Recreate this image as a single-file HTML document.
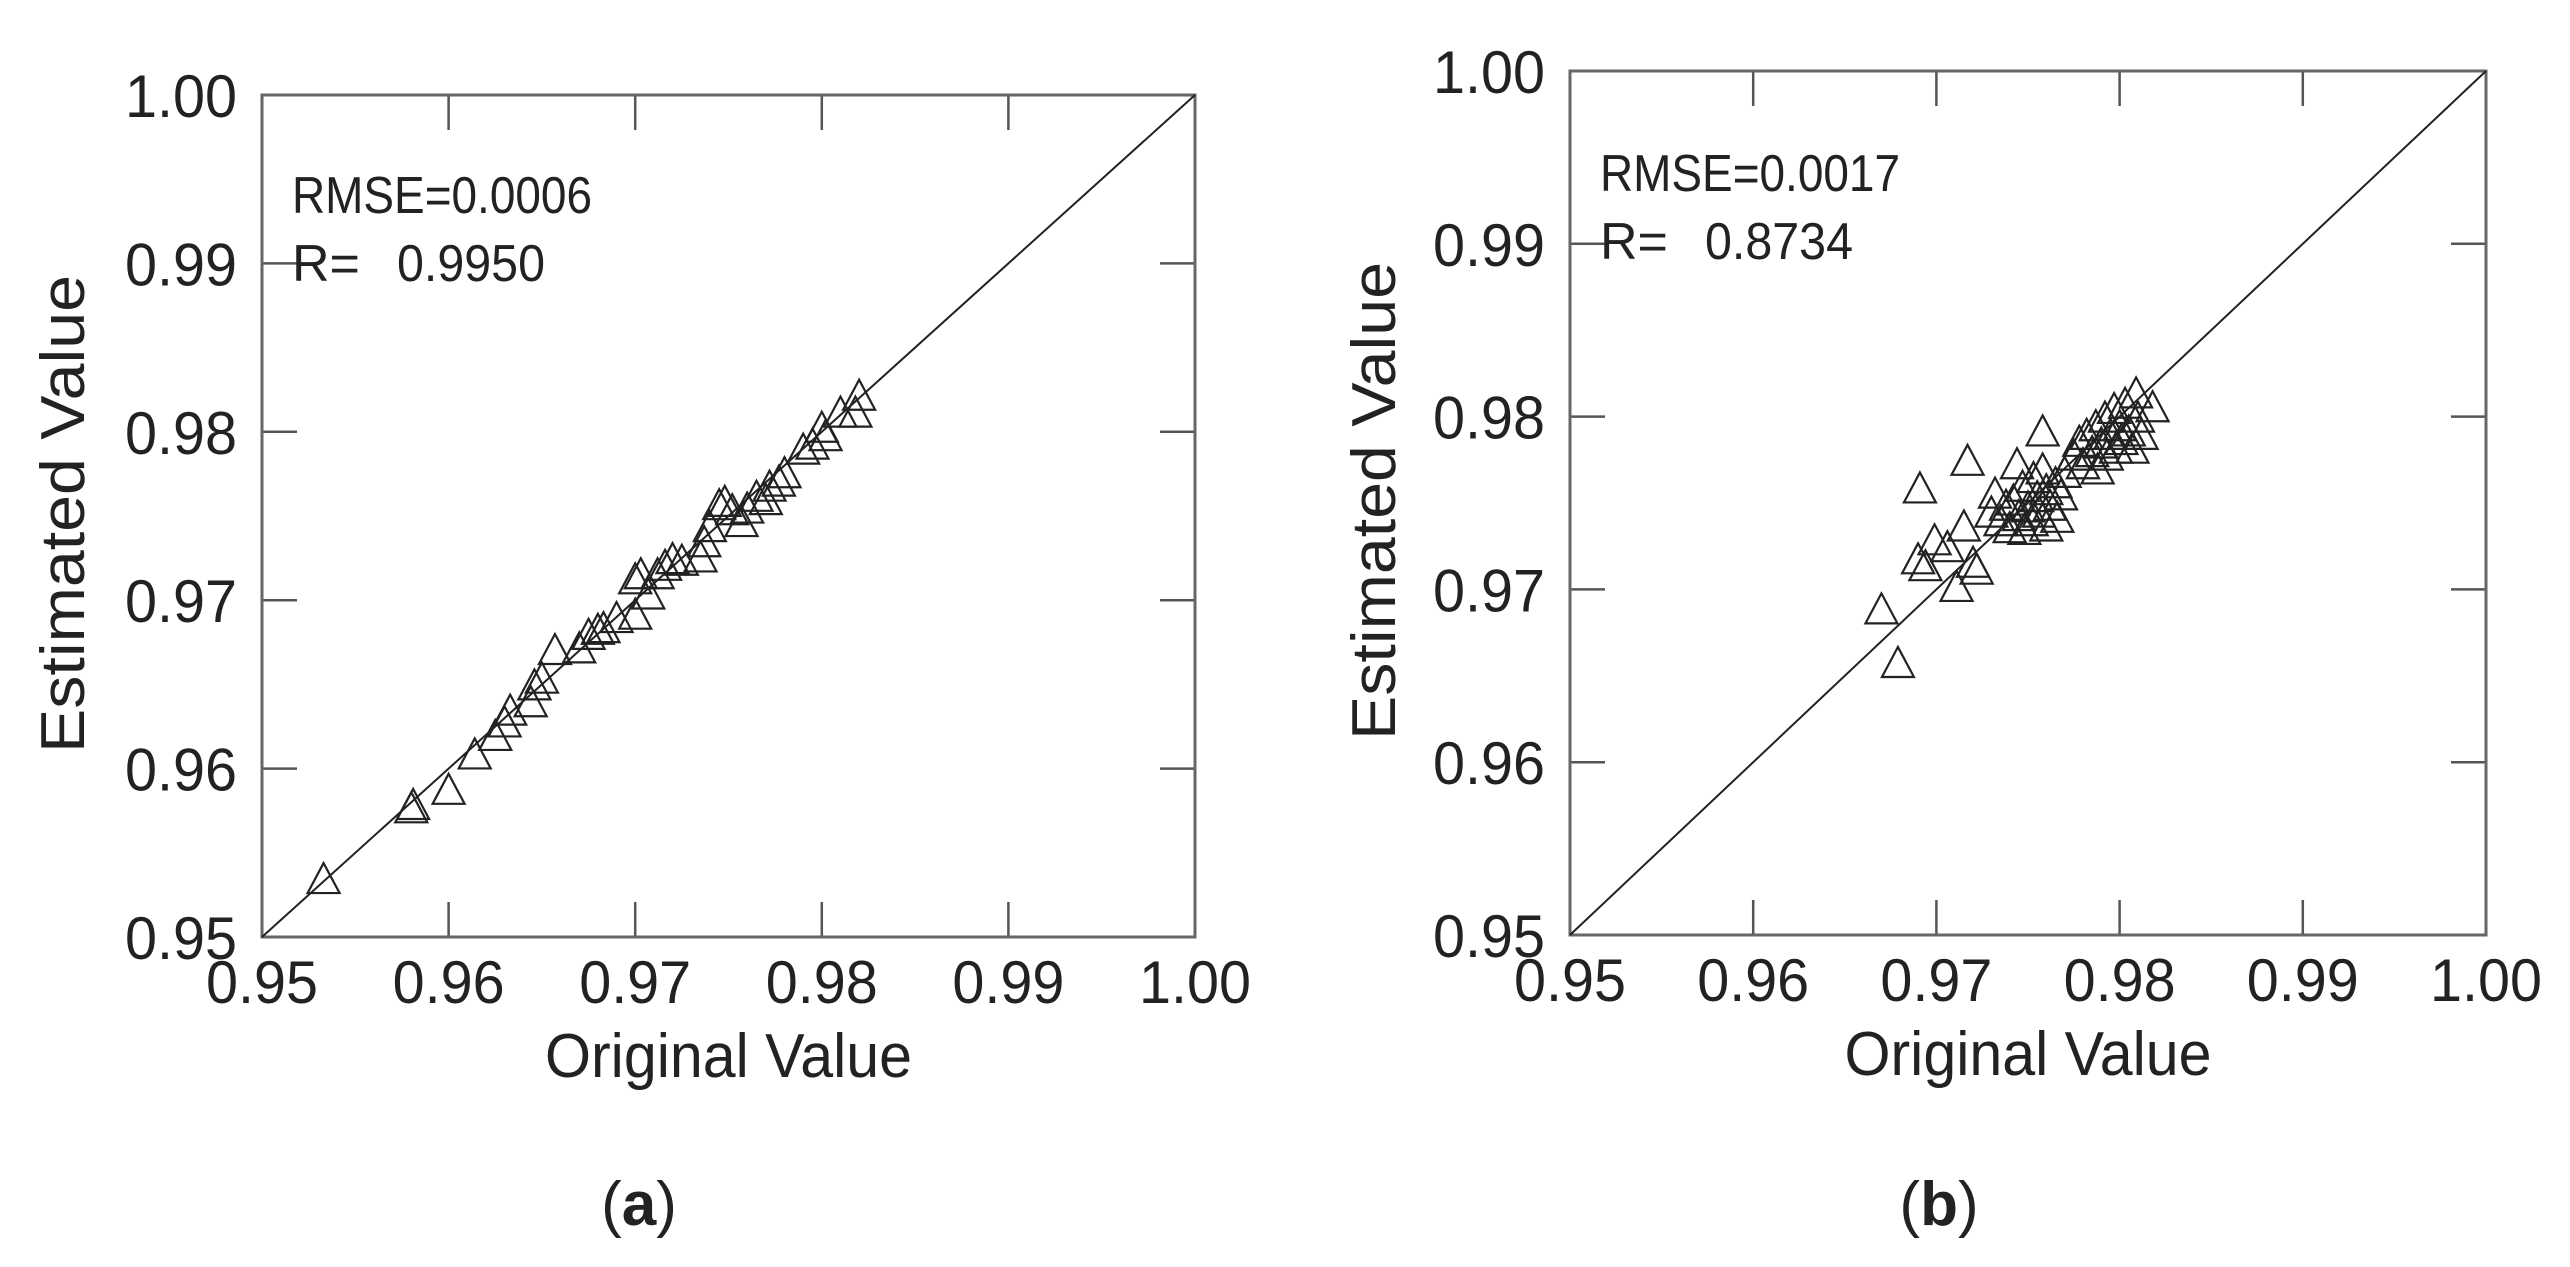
<!DOCTYPE html>
<html><head><meta charset="utf-8"><style>
html,body{margin:0;padding:0;background:#fff;}
svg{display:block;}
text{font-family:"Liberation Sans",sans-serif;fill:#222;}
</style></head><body>
<svg id="fig" width="2570" height="1267" viewBox="0 0 2570 1267" xmlns="http://www.w3.org/2000/svg"></svg>
<script>
const ticksVal = [0.95,0.96,0.97,0.98,0.99,1.00];
const tickLabels = ["0.95","0.96","0.97","0.98","0.99","1.00"];
const aX = [0.9533,0.9580,0.9581,0.9600,0.9614,0.9625,0.9630,0.9633,0.9644,0.9646,0.9650,0.9657,0.9670,0.9675,0.9680,0.9683,0.9690,0.9700,0.9700,0.9703,0.9707,0.9712,0.9716,0.9720,0.9725,0.9735,0.9737,0.9740,0.9745,0.9748,0.9752,0.9757,0.9760,0.9765,0.9770,0.9772,0.9777,0.9780,0.9790,0.9795,0.9800,0.9802,0.9810,0.9818,0.9820];
const aY = [0.9535,0.9577,0.9579,0.9588,0.9609,0.9620,0.9628,0.9635,0.9640,0.9650,0.9654,0.9671,0.9672,0.9680,0.9683,0.9684,0.9690,0.9692,0.9713,0.9716,0.9704,0.9716,0.9721,0.9725,0.9724,0.9726,0.9735,0.9744,0.9757,0.9759,0.9754,0.9747,0.9755,0.9762,0.9760,0.9768,0.9771,0.9776,0.9790,0.9793,0.9803,0.9798,0.9812,0.9812,0.9822];
const bX = [0.9679,0.9670,0.9691,0.9717,0.9699,0.9690,0.9694,0.9711,0.9706,0.9722,0.9715,0.9720,0.9730,0.9732,0.9735,0.9738,0.9740,0.9742,0.9744,0.9745,0.9747,0.9748,0.9750,0.9752,0.9753,0.9755,0.9756,0.9758,0.9758,0.9760,0.9760,0.9762,0.9765,0.9766,0.9768,0.9770,0.9775,0.9778,0.9780,0.9782,0.9785,0.9787,0.9788,0.9790,0.9792,0.9793,0.9795,0.9797,0.9798,0.9800,0.9801,0.9803,0.9805,0.9807,0.9809,0.9810,0.9812,0.9818];
const bY = [0.9658,0.9689,0.9759,0.9775,0.9729,0.9718,0.9714,0.9702,0.9725,0.9712,0.9737,0.9716,0.9745,0.9756,0.9740,0.9749,0.9736,0.9752,0.9773,0.9743,0.9760,0.9735,0.9748,0.9740,0.9765,0.9754,0.9745,0.9792,0.9770,0.9758,0.9737,0.9749,0.9762,0.9742,0.9755,0.9768,0.9778,0.9786,0.9773,0.9790,0.9780,0.9795,0.9770,0.9785,0.9800,0.9778,0.9790,0.9805,0.9782,0.9795,0.9787,0.9808,0.9792,0.9782,0.9814,0.9800,0.9790,0.9806];

const NS="http://www.w3.org/2000/svg";
const svg=document.getElementById('fig');
function mk(tag,attrs,parent,txt){const e=document.createElementNS(NS,tag);for(const k in attrs)e.setAttribute(k,attrs[k]);if(txt!==undefined)e.textContent=txt;(parent||svg).appendChild(e);return e;}

function panel(p){
  const g=mk('g',{});
  
  
  const sx=v=>p.l+(v-0.95)/0.05*(p.r-p.l);
  const sy=v=>p.b-(v-0.95)/0.05*(p.b-p.t);
  const TL=35;
  ticksVal.forEach((v,i)=>{
    if(i>0&&i<5){
      const t1=mk('line',{x1:sx(v),y1:p.b,x2:sx(v),y2:p.b-TL,stroke:'#555','stroke-width':2.5},g);
      
      const t2=mk('line',{x1:sx(v),y1:p.t,x2:sx(v),y2:p.t+TL,stroke:'#555','stroke-width':2.5},g);
      
      const t3=mk('line',{x1:p.l,y1:sy(v),x2:p.l+TL,y2:sy(v),stroke:'#555','stroke-width':2.5},g);
      
      const t4=mk('line',{x1:p.r,y1:sy(v),x2:p.r-TL,y2:sy(v),stroke:'#555','stroke-width':2.5},g);
      
    }
    const xl=mk('text',{x:sx(v),y:p.b+66,'text-anchor':'middle','font-size':60,textLength:112,lengthAdjust:'spacingAndGlyphs'},g,tickLabels[i]);
    
    const yl=mk('text',{x:p.l-25,y:sy(v)+22,'text-anchor':'end','font-size':60,textLength:112,lengthAdjust:'spacingAndGlyphs'},g,tickLabels[i]);
    
  });
  const fr=mk('rect',{x:p.l,y:p.t,width:p.r-p.l,height:p.b-p.t,fill:'none',stroke:'#666','stroke-width':3},g);
  
  const dg=mk('line',{x1:sx(0.95),y1:sy(0.95),x2:sx(1),y2:sy(1),stroke:'#222','stroke-width':2},g);
  
  const w=16,h=15;
  p.xs.forEach((xv,i)=>{
    const cx=sx(xv),cy=sy(p.ys[i]);
    const tri=mk('polygon',{points:`${cx},${cy-h} ${cx-w},${cy+h} ${cx+w},${cy+h}`,fill:'none',stroke:'#222','stroke-width':2.2},g);
    
    
  });
  const r1=mk('text',{x:p.l+30,y:p.statY,'font-size':52,textLength:300,lengthAdjust:'spacingAndGlyphs'},g,p.rmse);
  
  const r2=mk('text',{x:p.l+30,y:p.statY+68,'font-size':52},g,'R=');
  
  const r3=mk('text',{x:p.l+135,y:p.statY+68,'font-size':52,textLength:148,lengthAdjust:'spacingAndGlyphs'},g,p.rval);
  
  const xt=mk('text',{x:(p.l+p.r)/2,y:p.b+140,'text-anchor':'middle','font-size':62,textLength:367,lengthAdjust:'spacingAndGlyphs'},g,'Original Value');
  
  const yt=mk('text',{x:0,y:0,'text-anchor':'middle','font-size':62,textLength:478,lengthAdjust:'spacingAndGlyphs',transform:`translate(${p.ytX},${p.ytY}) rotate(-90)`},g,'Estimated Value');
  
  const cap=mk('text',{x:p.capX,y:1225,'text-anchor':'middle','font-size':62,'font-family':'Liberation Serif, serif'},g);
  
  cap.innerHTML='(<tspan font-weight="bold">'+p.cap+'</tspan>)';
}
panel({name:'panel-a',l:262,r:1195,t:95,b:937,xs:aX,ys:aY,rmse:'RMSE=0.0006',rval:'0.9950',statY:213,ytX:84,ytY:514,capX:639,cap:'a'});
panel({name:'panel-b',l:1570,r:2486,t:71,b:935,xs:bX,ys:bY,rmse:'RMSE=0.0017',rval:'0.8734',statY:191,ytX:1395,ytY:501,capX:1939,cap:'b'});
</script>
</body></html>
